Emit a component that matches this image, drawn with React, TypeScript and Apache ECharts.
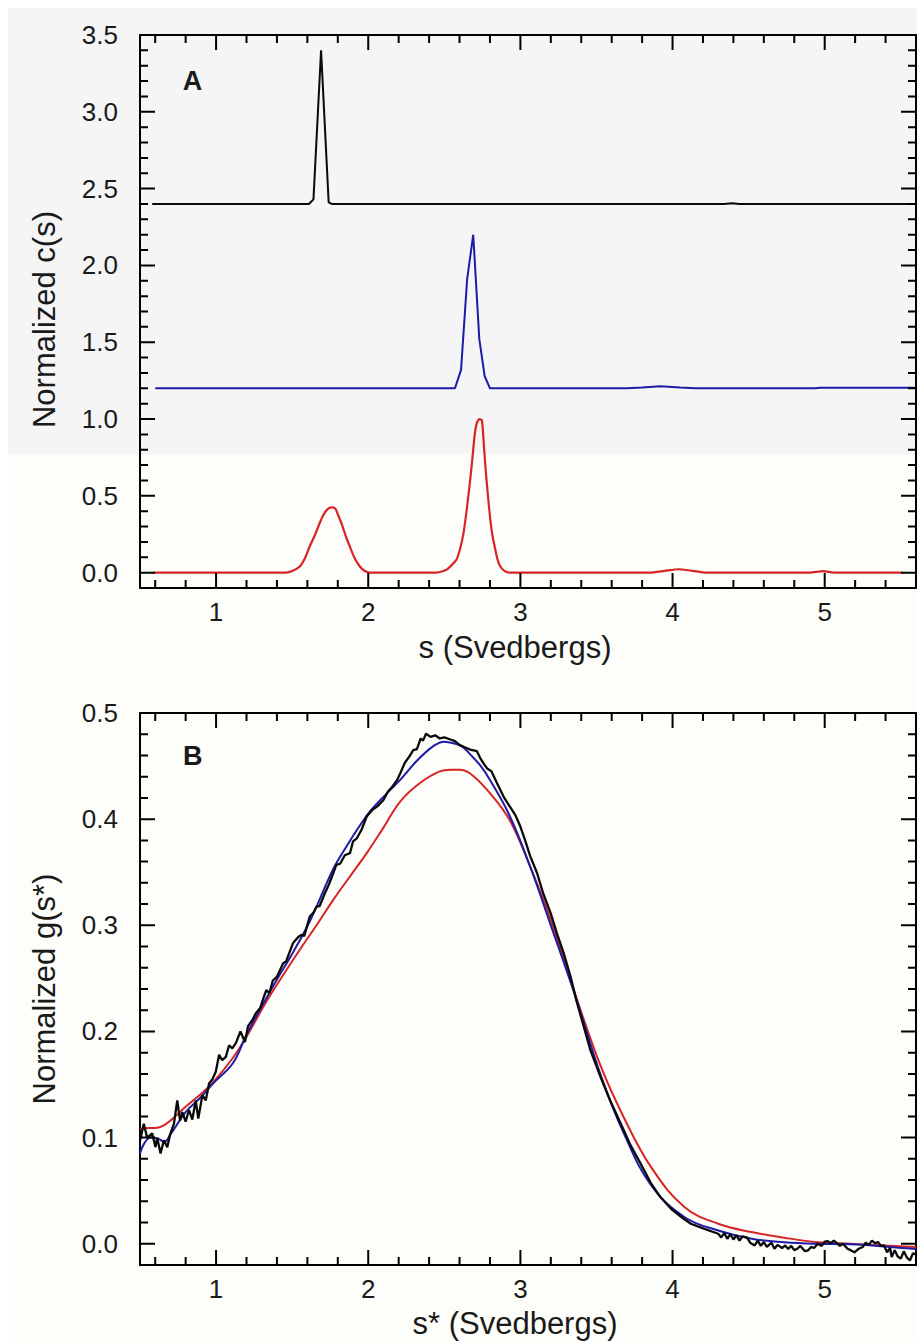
import React, { useEffect, useRef } from "react";
import * as echarts from "echarts";

// ---------- Panel A : c(s) distributions (offset traces) ----------
const sBlackA = [0.58, 1.61, 1.64, 1.69, 1.74, 1.76, 4.34, 4.39, 4.44, 5.6];
const cBlackA = [2.4, 2.4, 2.43, 3.4, 2.41, 2.4, 2.4, 2.405, 2.4, 2.4];

const sBlueA = [0.6, 2.57, 2.61, 2.65, 2.69, 2.73, 2.765, 2.8, 3.7, 3.8, 3.92, 4.05, 4.15, 4.94, 4.97, 5.6];
const cBlueA = [1.2, 1.2, 1.32, 1.91, 2.2, 1.52, 1.28, 1.2, 1.2, 1.205, 1.213, 1.205, 1.2, 1.2, 1.203, 1.203];

const sRedA = [
  0.59, 1.46, 1.5, 1.55, 1.585, 1.615, 1.65, 1.68, 1.705, 1.725, 1.745, 1.765, 1.785, 1.8, 1.824, 1.85, 1.879, 1.91, 1.945, 1.975, 2.01,
  2.45, 2.516, 2.58, 2.605, 2.626, 2.645, 2.66, 2.675, 2.688, 2.7, 2.714, 2.73, 2.747, 2.758, 2.77, 2.785, 2.8, 2.815, 2.835, 2.85, 2.868, 2.9, 2.93,
  3.85, 3.95, 4.04, 4.13, 4.22, 4.9, 4.99, 5.06, 5.51,
];
const cRedA = [
  0, 0, 0.01, 0.04, 0.095, 0.17, 0.245, 0.32, 0.375, 0.405, 0.422, 0.425, 0.415, 0.38, 0.32, 0.245, 0.17, 0.095, 0.04, 0.012, 0,
  0, 0.02, 0.085, 0.16, 0.257, 0.39, 0.517, 0.65, 0.78, 0.9, 0.975, 1.0, 0.99, 0.86, 0.69, 0.52, 0.366, 0.25, 0.15, 0.085, 0.04, 0.008, 0,
  0, 0.012, 0.022, 0.012, 0, 0, 0.01, 0, 0,
];

// ---------- Panel B : g(s*) distributions ----------
const sRedB = [0.5, 0.55, 0.6, 0.65, 0.7, 0.8, 0.9, 0.98, 1.11, 1.2, 1.33, 1.44, 1.55, 1.66, 1.77, 1.88, 1.99, 2.1, 2.21, 2.34, 2.47, 2.54, 2.6, 2.67, 2.8, 2.93, 3.065, 3.2, 3.37, 3.53, 3.68, 3.86, 4.08, 4.3, 4.52, 4.735, 4.955, 5.17, 5.39, 5.6];
const gRedB = [0.108, 0.109, 0.109, 0.111, 0.116, 0.129, 0.141, 0.152, 0.175, 0.195, 0.228, 0.253, 0.277, 0.3, 0.324, 0.346, 0.368, 0.392, 0.4166, 0.434, 0.445, 0.4465, 0.4465, 0.443, 0.4245, 0.399, 0.355, 0.305, 0.231, 0.1666, 0.119, 0.072, 0.0345, 0.0189, 0.011, 0.0057, 0.0015, 0.0, -0.0016, -0.003];

const sBlueB = [0.5, 0.53, 0.57, 0.62, 0.66, 0.7, 0.8, 0.9, 0.98, 1.11, 1.2, 1.31, 1.4, 1.5, 1.62, 1.77, 1.86, 1.945, 2.01, 2.1, 2.21, 2.32, 2.43, 2.5, 2.56, 2.62, 2.67, 2.74, 2.8, 2.93, 3.065, 3.2, 3.35, 3.53, 3.68, 3.86, 4.08, 4.3, 4.52, 4.735, 4.955, 5.17, 5.39, 5.6];
const gBlueB = [0.085, 0.095, 0.1, 0.099, 0.096, 0.103, 0.124, 0.138, 0.151, 0.17, 0.197, 0.226, 0.249, 0.273, 0.305, 0.353, 0.375, 0.394, 0.407, 0.421, 0.437, 0.455, 0.469, 0.473, 0.4715, 0.468, 0.461, 0.45, 0.437, 0.403, 0.355, 0.3, 0.238, 0.158, 0.104, 0.055, 0.025, 0.0125, 0.0047, 0.0015, 0, -0.0005, -0.0025, -0.005];

const sBlackB = [
  0.5, 0.525, 0.547, 0.58, 0.602, 0.613, 0.635, 0.657, 0.679, 0.7, 0.723, 0.745, 0.763, 0.778, 0.8, 0.822, 0.844, 0.866, 0.883, 0.91,
  0.932, 0.954, 0.976, 0.998, 1.02, 1.04, 1.064, 1.086, 1.107, 1.13, 1.16, 1.19, 1.21, 1.24, 1.26, 1.29, 1.31, 1.33, 1.35, 1.373,
  1.4, 1.44, 1.46, 1.505, 1.54, 1.56, 1.58, 1.615, 1.64, 1.66, 1.68, 1.714, 1.74, 1.77, 1.79, 1.815, 1.846, 1.88, 1.9, 1.925,
  1.956, 1.99, 2.03, 2.06, 2.1, 2.13, 2.155, 2.19, 2.21, 2.24, 2.27, 2.296, 2.32, 2.345, 2.36, 2.38, 2.41, 2.44, 2.47, 2.5,
  2.54, 2.57, 2.6, 2.63, 2.67, 2.714, 2.736, 2.76, 2.78, 2.81, 2.846, 2.87, 2.89, 2.93, 2.966, 3.0, 3.03, 3.065, 3.11, 3.15,
  3.2, 3.24, 3.285, 3.33, 3.37, 3.417, 3.46, 3.527, 3.59, 3.66, 3.72, 3.79, 3.86, 3.92, 3.99, 4.06, 4.12, 4.21, 4.3,
  4.32, 4.34, 4.36, 4.38, 4.4, 4.42, 4.44, 4.46, 4.49, 4.51, 4.54, 4.56, 4.58, 4.6, 4.62, 4.65, 4.67, 4.69, 4.72, 4.74,
  4.76, 4.78, 4.8, 4.82, 4.84, 4.87, 4.89, 4.91, 4.93, 4.955, 4.98, 5.0, 5.02, 5.04, 5.06, 5.08, 5.1, 5.12, 5.15, 5.17,
  5.196, 5.22, 5.25, 5.27, 5.29, 5.31, 5.33, 5.35, 5.37, 5.39, 5.41, 5.43, 5.44, 5.46, 5.48, 5.5, 5.52, 5.54, 5.56, 5.58, 5.6,
];
const gBlackB = [
  0.097, 0.113, 0.1, 0.104, 0.091, 0.1, 0.085, 0.0975, 0.091, 0.104, 0.113, 0.135, 0.116, 0.124, 0.115, 0.126, 0.117, 0.135, 0.118, 0.14,
  0.135, 0.151, 0.155, 0.162, 0.178, 0.173, 0.176, 0.187, 0.184, 0.189, 0.2, 0.19, 0.205, 0.211, 0.217, 0.222, 0.231, 0.239, 0.236, 0.248,
  0.2515, 0.264, 0.266, 0.283, 0.289, 0.291, 0.29, 0.308, 0.312, 0.3175, 0.318, 0.33, 0.338, 0.349, 0.357, 0.358, 0.366, 0.368, 0.379, 0.382,
  0.39, 0.4025, 0.409, 0.412, 0.418, 0.426, 0.43, 0.437, 0.443, 0.453, 0.459, 0.465, 0.466, 0.476, 0.474, 0.4805, 0.4775, 0.479, 0.476, 0.477,
  0.475, 0.4735, 0.47, 0.468, 0.4655, 0.464, 0.4575, 0.452, 0.448, 0.445, 0.434, 0.427, 0.421, 0.412, 0.404, 0.393, 0.3805, 0.365, 0.349, 0.33,
  0.311, 0.2925, 0.2736, 0.2515, 0.228, 0.2043, 0.1824, 0.157, 0.135, 0.113, 0.094, 0.0755, 0.0566, 0.044, 0.033, 0.025, 0.0189, 0.014, 0.0094,
  0.006, 0.01, 0.0047, 0.009, 0.004, 0.008, 0.003, 0.007, 0.0057, 0.001, -0.0016, 0.003, -0.002, 0.0016, -0.003, 0.001, -0.0047, -0.001, -0.004, -0.0016,
  -0.005, -0.002, -0.006, -0.0047, -0.002, -0.007, -0.0063, -0.003, -0.004, 0.0, -0.002, 0.002, 0.0025, 0.0005, 0.003, 0.0006, -0.002, 0.0, -0.0047, -0.006,
  -0.008, -0.005, -0.003, 0.001, -0.001, 0.003, 0.0005, 0.0016, -0.002, -0.0016, -0.008, -0.004, -0.0126, -0.006, -0.012, -0.014, -0.007, -0.013, -0.0157, -0.009, -0.01,
];

// ---------- Tick values ----------
const X_MAJOR = [1, 2, 3, 4, 5];
const X_MINOR = [0.6, 0.8, 1.2, 1.4, 1.6, 1.8, 2.2, 2.4, 2.6, 2.8, 3.2, 3.4, 3.6, 3.8, 4.2, 4.4, 4.6, 4.8, 5.2, 5.4];
const Y_A_MAJOR = [0, 0.5, 1.0, 1.5, 2.0, 2.5, 3.0, 3.5];
const Y_B_MAJOR = [0, 0.1, 0.2, 0.3, 0.4, 0.5];

const minorsBetween = (lo: number, hi: number, step: number, majorStep: number) => {
  const out: number[] = [];
  const n = Math.round((hi - lo) / step);
  for (let i = 0; i <= n; i++) {
    const v = Math.round((lo + i * step) * 1000) / 1000;
    const r = v / majorStep;
    if (Math.abs(r - Math.round(r)) > 1e-6) out.push(v);
  }
  return out;
};
const Y_A_MINOR = minorsBetween(0.1, 3.4, 0.1, 0.5);
const Y_B_MINOR = minorsBetween(0.02, 0.48, 0.02, 0.1);

const X_MIN = 0.5;
const X_MAX = 5.6;
const YA_MIN = -0.1;
const YA_MAX = 3.5;
const YB_MIN = -0.02;
const YB_MAX = 0.5;

// grid boxes (pixels)
const GRID_A = { left: 140, top: 35, width: 776, height: 553 };
const GRID_B = { left: 140, top: 713, width: 776, height: 552 };

const FONT = "'Liberation Sans', Arial, Helvetica, sans-serif";
const TXT = "#1a1a1a";
const AX = "#000000";
const BLACK = "#0a0a0a";
const BLUE = "#1c1ca8";
const RED = "#d82424";

const zip = (xs: number[], ys: number[]) => xs.map((x, i) => [x, ys[i]]);

const axLine = () => ({ show: true, onZero: false, lineStyle: { color: AX, width: 2 } });

function xAxes(grid: number, name: string, nameGap: number) {
  const base = () => ({
    type: "value",
    gridIndex: grid,
    min: X_MIN,
    max: X_MAX,
    splitLine: { show: false },
    axisLine: axLine(),
    axisTick: { show: false },
  });
  return [
    {
      ...base(),
      position: "bottom",
      name,
      nameLocation: "middle",
      nameGap,
      nameTextStyle: { fontSize: 31, fontFamily: FONT, color: TXT, padding: [0, 26, 0, 0] },
      axisLabel: {
        customValues: X_MAJOR,
        formatter: (v: number) => String(Math.round(v)),
        fontSize: 26,
        margin: 11,
        color: TXT,
        fontFamily: FONT,
      },
    },
    { ...base(), position: "top", axisLabel: { show: false } },
  ];
}

function yAxes(grid: number, min: number, max: number, majors: number[], name: string, nameGap: number, pad: number[]) {
  const base = () => ({
    type: "value",
    gridIndex: grid,
    min,
    max,
    splitLine: { show: false },
    axisLine: axLine(),
    axisTick: { show: false },
  });
  return [
    {
      ...base(),
      position: "left",
      name,
      nameLocation: "middle",
      nameGap,
      nameTextStyle: { fontSize: 31, fontFamily: FONT, color: TXT, padding: pad },
      axisLabel: {
        customValues: majors,
        formatter: (v: number) => Math.abs(v).toFixed(1),
        fontSize: 26,
        margin: 22,
        color: TXT,
        fontFamily: FONT,
      },
    },
    { ...base(), position: "right", axisLabel: { show: false } },
  ];
}

const lineSeries = (name: string, data: any[], color: string, width: number, axisIdx: number, smooth: number | boolean) => ({
  type: "line",
  name,
  data,
  xAxisIndex: axisIdx,
  yAxisIndex: axisIdx,
  showSymbol: false,
  symbol: "none",
  smooth,
  connectNulls: false,
  lineStyle: { color, width },
});

// inward tick marks on all four sides, drawn as short broken line segments in data space
function tickSeries(axisIdx: number, box: { width: number; height: number }, yMin: number, yMax: number, yMajor: number[], yMinor: number[]) {
  const dy = (px: number) => ((yMax - yMin) * px) / box.height;
  const dx = (px: number) => ((X_MAX - X_MIN) * px) / box.width;
  const pts: any[] = [];
  const seg = (a: number[], b: number[]) => {
    pts.push(a, b, [a[0], null]);
  };
  const xt = (vals: number[], len: number) =>
    vals.forEach((v) => {
      seg([v, yMin], [v, yMin + dy(len)]);
      seg([v, yMax], [v, yMax - dy(len)]);
    });
  const yt = (vals: number[], len: number) =>
    vals.forEach((v) => {
      seg([X_MIN, v], [X_MIN + dx(len), v]);
      seg([X_MAX, v], [X_MAX - dx(len), v]);
    });
  xt(X_MAJOR, 15);
  xt(X_MINOR, 8);
  yt(yMajor, 15);
  yt(yMinor, 8);
  return { ...lineSeries("ticks", pts, AX, 2, axisIdx, false), clip: false };
}

const letters = () => [
  {
    type: "text",
    x: 192.5,
    y: 81,
    style: { text: "A", fontSize: 27, fontWeight: "bold", fontFamily: FONT, fill: TXT, align: "center", verticalAlign: "middle" },
  },
  {
    type: "text",
    x: 192.7,
    y: 756,
    style: { text: "B", fontSize: 27, fontWeight: "bold", fontFamily: FONT, fill: TXT, align: "center", verticalAlign: "middle" },
  },
];

export default function App() {
  const ref = useRef<HTMLDivElement>(null);
  useEffect(() => {
    if (!ref.current) return;
    const chart = echarts.init(ref.current, undefined, { renderer: "svg" });
    const option: any = {
      animation: false,
      backgroundColor: "transparent",
      graphic: letters(),
      grid: [GRID_A, GRID_B],
      xAxis: [...xAxes(0, "s (Svedbergs)", 44), ...xAxes(1, "s* (Svedbergs)", 43)],
      yAxis: [
        ...yAxes(0, YA_MIN, YA_MAX, Y_A_MAJOR, "Normalized c(s)", 80, [0, 16, 0, 0]),
        ...yAxes(1, YB_MIN, YB_MAX, Y_B_MAJOR, "Normalized g(s*)", 80, [0, 0, 0, 0]),
      ],
      series: [
        lineSeries("A black", zip(sBlackA, cBlackA), BLACK, 2, 0, false),
        lineSeries("A blue", zip(sBlueA, cBlueA), BLUE, 2, 0, false),
        lineSeries("A red", zip(sRedA, cRedA), RED, 2.2, 0, 0.2),
        lineSeries("B red", zip(sRedB, gRedB), RED, 2, 2, 0.4),
        lineSeries("B blue", zip(sBlueB, gBlueB), BLUE, 2, 2, 0.4),
        lineSeries("B black", zip(sBlackB, gBlackB), BLACK, 2.3, 2, false),
        tickSeries(0, GRID_A, YA_MIN, YA_MAX, Y_A_MAJOR, Y_A_MINOR),
        tickSeries(2, GRID_B, YB_MIN, YB_MAX, Y_B_MAJOR, Y_B_MINOR),
      ],
    };
    chart.setOption(option);
    return () => chart.dispose();
  }, []);
  return (
    <div style={{ position: "absolute", left: 0, top: 0, width: 917, height: 1342, background: "#ffffff" }}>
      <div style={{ position: "absolute", left: 8, top: 8, width: 909, height: 446, background: "#f5f5f6" }} />
      <div style={{ position: "absolute", left: 8, top: 454, width: 909, height: 888, background: "#fdfdf9" }} />
      <div ref={ref} style={{ position: "absolute", left: 0, top: 0, width: 917, height: 1342 }} />
    </div>
  );
}
